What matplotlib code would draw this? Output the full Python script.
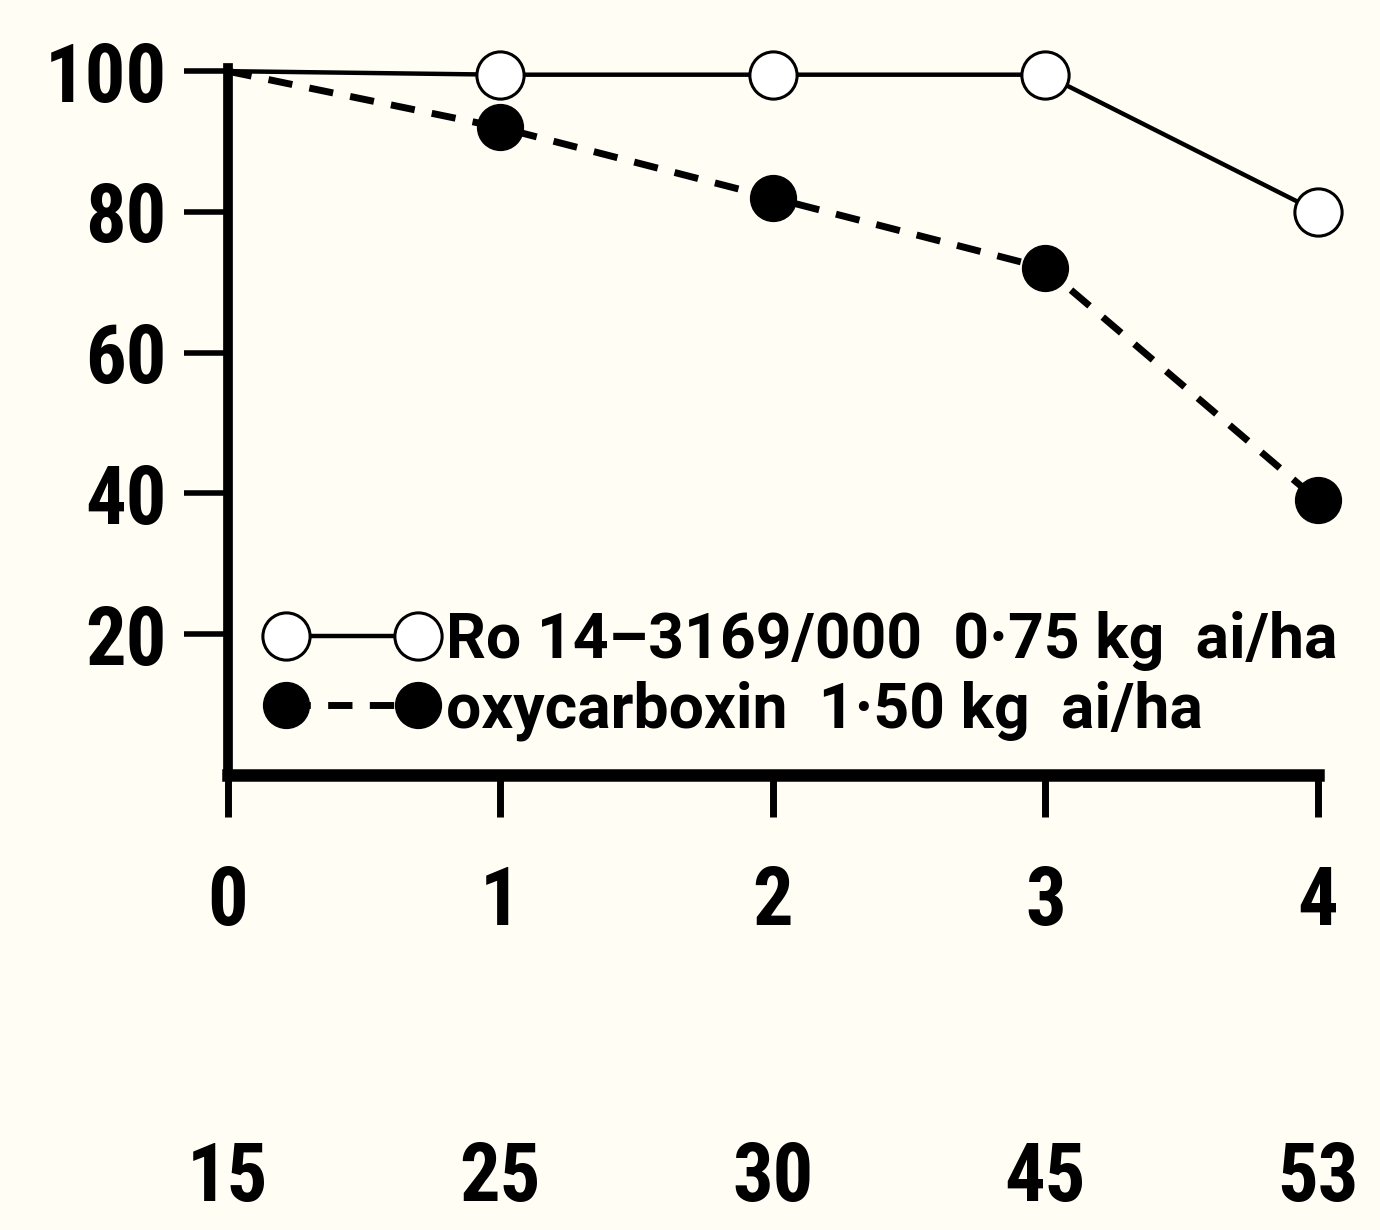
import matplotlib
matplotlib.use("Agg")
import matplotlib.pyplot as plt
from matplotlib import font_manager

names = {f.name for f in font_manager.fontManager.ttflist}
FAM = "DejaVu Sans"
for cand in ["Roboto Condensed", "Liberation Sans Narrow", "DejaVu Sans"]:
    if cand in names:
        FAM = cand
        break
LEGFAM = "Roboto" if "Roboto" in names else FAM
plt.rcParams["font.family"] = [FAM, "DejaVu Sans"]
plt.rcParams["font.weight"] = "bold"
plt.rcParams["font.stretch"] = "condensed"

# data
weeks = [0, 1, 2, 3, 4]
days = ["15", "25", "30", "45", "53"]
ro_vals = [100, 99.5, 99.5, 99.5, 80]
oxy_vals = [100, 92, 82, 72, 39]
yticks = [20, 40, 60, 80, 100]
ro_label = "Ro 14\u20133169/000  0\u00b775 kg  ai/ha"
oxy_label = "oxycarboxin  1\u00b750 kg  ai/ha"

BG = "#fffdf4"
fig = plt.figure(figsize=(13.8, 12.3), dpi=100, facecolor=BG)
ax = fig.add_axes([0.165, 0.370, 0.790, 0.575], facecolor=BG)

ax.plot(weeks, ro_vals, color="black", lw=3.2, marker="o", markersize=34,
        markerfacecolor="white", markeredgecolor="black", markeredgewidth=2.2,
        markevery=[1, 2, 3, 4], label=ro_label, clip_on=False, zorder=3)
ax.plot(weeks, oxy_vals, color="black", lw=5, dashes=(3.5, 2.5), marker="o",
        markersize=33, markerfacecolor="black", markeredgecolor="black",
        markevery=[1, 2, 3, 4], label=oxy_label, clip_on=False, zorder=3)

ax.set_xlim(0, 4)
ax.set_ylim(0, 100.5)
ax.set_yticks(yticks)
ax.set_yticklabels([str(v) for v in yticks])
ax.set_xticks(weeks)
ax.set_xticklabels([str(w) for w in weeks])

for s in ["top", "right"]:
    ax.spines[s].set_visible(False)
ax.spines["left"].set_linewidth(7)
ax.spines["bottom"].set_linewidth(9)
ax.spines["left"].set_capstyle("projecting")
ax.spines["bottom"].set_capstyle("projecting")

ax.tick_params(axis="y", direction="out", length=32, width=4, pad=12,
               labelsize=58)
ax.tick_params(axis="x", direction="out", length=30, width=5, pad=34,
               labelsize=58)

for w, d in zip(weeks, days):
    ax.text(w, -0.572, d, transform=ax.get_xaxis_transform(), ha="center",
            va="center", fontsize=58, fontweight="bold")

leg = ax.legend(loc="lower left", bbox_to_anchor=(0.005, 0.0), frameon=False,
                numpoints=2, handlelength=2.7, handletextpad=0.15,
                prop={"family": [LEGFAM, "DejaVu Sans"], "weight": "bold",
                      "stretch": "normal", "size": 45},
                labelspacing=0.15, borderaxespad=0.15)

fig.savefig("out.png", dpi=100, facecolor=BG)
